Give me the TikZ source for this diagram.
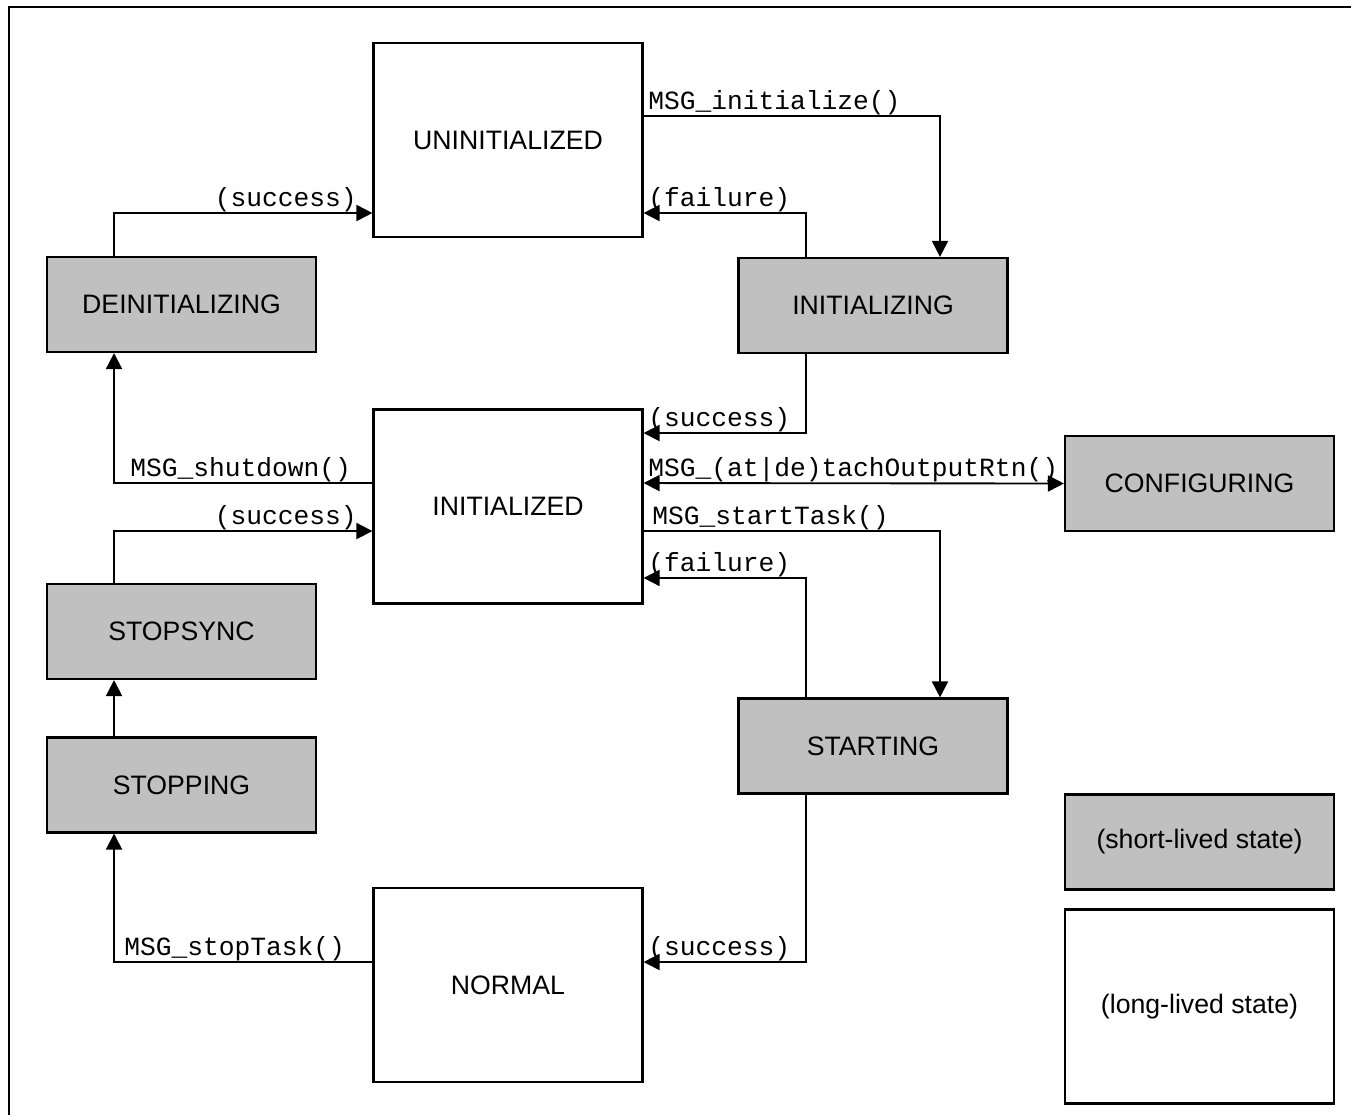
\documentclass[tikz,border=0pt]{standalone}
\usepackage{fontspec}
\setmainfont{Liberation Sans}
\newfontfamily\monofont{Liberation Mono}
\usetikzlibrary{arrows.meta}
\definecolor{shortfill}{HTML}{C0C0C0}
\begin{document}
\begin{tikzpicture}[x=0.75pt,y=-0.75pt,
  statebox/.style={draw=black,line width=1.6pt,minimum width=201.75pt,inner sep=0pt,
     font=\fontsize{20pt}{24pt}\selectfont},
  longbox/.style={statebox,fill=white,minimum height=145.5pt},
  shortbox/.style={statebox,fill=shortfill,minimum height=71.25pt},
  conn/.style={line width=1.4pt,-{Triangle[length=12pt,width=12pt]}},
  conn2/.style={line width=1.4pt,{Triangle[length=12pt,width=12pt]}-{Triangle[length=12pt,width=12pt]}},
  lbl/.style={inner sep=0pt,font=\monofont\fontsize{19.7pt}{23pt}\selectfont}]
\useasboundingbox (0,0) rectangle (1351,1114);
\fill[white] (0,0) rectangle (1351,1114);
\draw[line width=1.6pt] (9,7) rectangle (1365,1130);

% states
\node[longbox]  (unini)    at (508,140)    {UNINITIALIZED};
\node[shortbox] (deinit)   at (181.5,304.5) {DEINITIALIZING};
\node[shortbox] (initing)  at (873,305.5)  {INITIALIZING};
\node[longbox]  (inited)   at (508,506.5)  {INITIALIZED};
\node[shortbox] (config)   at (1199.5,483.5) {CONFIGURING};
\node[shortbox] (stopsync) at (181.5,631.5) {STOPSYNC};
\node[shortbox] (stopping) at (181.5,785)  {STOPPING};
\node[shortbox] (starting) at (873,746)    {STARTING};
\node[longbox]  (normal)   at (508,985)    {NORMAL};
\node[shortbox] (legshort) at (1199.5,842) {(short-lived state)};
\node[longbox]  (leglong)  at (1199.5,1006.5) {(long-lived state)};

% connectors
\draw[conn] ([yshift=18pt]unini.east) -| ([xshift=50.25pt]initing.north);
\draw[conn] ([xshift=-50.25pt]initing.north) |- ([yshift=-54.75pt]unini.east);
\draw[conn] ([xshift=-50.6pt]deinit.north) |- ([yshift=-54.75pt]unini.west);
\draw[conn] ([xshift=-50.25pt]initing.south) |- ([yshift=55.1pt]inited.east);
\draw[conn2] ([yshift=17.6pt]inited.east) -- (config.west);
\draw[conn] ([yshift=-18.4pt]inited.east) -| ([xshift=50.25pt]starting.north);
\draw[conn] ([xshift=-50.25pt]starting.north) |- ([yshift=-53.6pt]inited.east);
\draw[conn] ([yshift=17.6pt]inited.west) -| ([xshift=-50.6pt]deinit.south);
\draw[conn] ([xshift=-50.6pt]stopsync.north) |- ([yshift=-18.4pt]inited.west);
\draw[conn] ([xshift=-50.6pt]stopping.north) -- ([xshift=-50.6pt]stopsync.south);
\draw[conn] ([yshift=17.25pt]normal.west) -| ([xshift=-50.6pt]stopping.south);
\draw[conn] ([xshift=-50.25pt]starting.south) |- ([yshift=17.25pt]normal.east);

% labels
\node[lbl,anchor=base west] (l1)  at (648,109) {MSG\_initialize()};
\node[lbl,anchor=base west] (l2)  at (648,206) {(failure)};
\node[lbl,anchor=base east] (l3)  at (357,206) {(success)};
\node[lbl,anchor=base west] (l4)  at (648,426) {(success)};
\node[lbl,anchor=base west] (l5)  at (648,476) {MSG\_(at|de)tachOutputRtn()};
\node[lbl,anchor=base west] (l6)  at (652,524) {MSG\_startTask()};
\node[lbl,anchor=base west] (l7)  at (648,571) {(failure)};
\node[lbl,anchor=base west] (l8)  at (130,476) {MSG\_shutdown()};
\node[lbl,anchor=base east] (l9)  at (357,524) {(success)};
\node[lbl,anchor=base west] (l10) at (124,955) {MSG\_stopTask()};
\node[lbl,anchor=base west] (l11) at (648,955) {(success)};
\end{tikzpicture}
\end{document}
